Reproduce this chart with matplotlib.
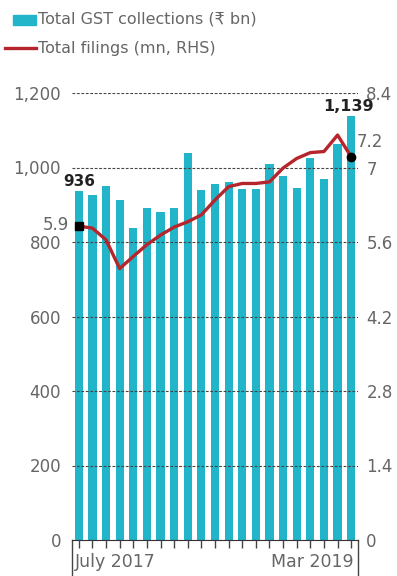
import matplotlib
matplotlib.use('Agg')
import matplotlib.pyplot as plt
from matplotlib.patches import Rectangle
from matplotlib.lines import Line2D

# monthly data, July 2017 - March 2019
months = ['Jul 2017', 'Aug 2017', 'Sep 2017', 'Oct 2017', 'Nov 2017', 'Dec 2017',
          'Jan 2018', 'Feb 2018', 'Mar 2018', 'Apr 2018', 'May 2018', 'Jun 2018',
          'Jul 2018', 'Aug 2018', 'Sep 2018', 'Oct 2018', 'Nov 2018', 'Dec 2018',
          'Jan 2019', 'Feb 2019', 'Mar 2019']
gst = [936, 925, 950, 912, 838, 892, 880, 892, 1040, 940, 955,
       962, 942, 942, 1010, 978, 945, 1025, 968, 1062, 1139]
filings = [5.9, 5.86, 5.64, 5.1, 5.33, 5.55, 5.73, 5.88, 5.98, 6.11, 6.39,
           6.64, 6.70, 6.70, 6.73, 6.99, 7.17, 7.28, 7.30, 7.61, 7.2]
left_ticks = [0, 200, 400, 600, 800, 1000, 1200]
right_ticks = [0, 1.4, 2.8, 4.2, 5.6, 7, 8.4]

bar_color = '#22b4c9'
line_color = '#b5252b'
txt = '#666666'
fonts = ['DejaVu Sans', 'Noto Sans']
plt.rcParams['font.family'] = fonts

fig = plt.figure(figsize=(3.97, 5.76), dpi=100)
W, H = 397, 576
ax = fig.add_axes([72 / W, 36 / H, 286 / W, 447 / H])
ax2 = ax.twinx()

x = list(range(len(months)))
ax.bar(x, gst, width=0.6, color=bar_color, zorder=1)
ax.set_xlim(-0.5, len(months) - 0.5)
ax.set_ylim(0, 1200)
ax.set_yticks(left_ticks)
ax.set_yticklabels([f'{v:,}' for v in left_ticks])
ax.yaxis.grid(True, color='#444444', linestyle=(0, (2.5, 1.5)), linewidth=0.8)
ax.set_axisbelow(False)
ax.tick_params(axis='y', length=0, pad=8, labelcolor=txt, labelsize=12)

ax.set_xticks([])
ax.set_xticks(x, minor=True)
ax.tick_params(axis='x', which='minor', direction='out', length=6, width=1, color='#444444')

for a in (ax, ax2):
    for s in ('top', 'left', 'right'):
        a.spines[s].set_visible(False)
ax.spines['bottom'].set_color('#333333')
ax2.spines['bottom'].set_visible(False)

ax2.plot(x, filings, color=line_color, linewidth=2.4, zorder=3)
ax2.plot(x[0], filings[0], marker='s', color='black', markersize=6, zorder=4)
ax2.plot(x[-1], filings[-1], marker='o', color='black', markersize=6, zorder=4)
ax2.set_ylim(0, 8.4)
ax2.set_yticks(right_ticks)
ax2.set_yticklabels([f'{v:g}' for v in right_ticks])
ax2.tick_params(axis='y', length=0, pad=6, labelcolor=txt, labelsize=12)

# value labels
ax.annotate(f'{gst[0]:,}', xy=(x[0], gst[0]), xytext=(0, 2), textcoords='offset points',
            ha='center', va='bottom', fontsize=11, fontweight='bold', color='#222222')
ax.annotate(f'{gst[-1]:,}', xy=(x[-1], gst[-1]), xytext=(-2, 1), textcoords='offset points',
            ha='center', va='bottom', fontsize=11.5, fontweight='bold', color='#222222')
ax2.annotate(f'{filings[0]:g}', xy=(x[0], filings[0]), xytext=(-7, 1), textcoords='offset points',
             ha='right', va='center', fontsize=12, color=txt)
ax2.annotate(f'{filings[-1]:g}', xy=(x[-1], filings[-1]), xytext=(4, 4), textcoords='offset points',
             ha='left', va='bottom', fontsize=12, color=txt)

# x labels and end frame lines
ax.text(0.01, -0.03, 'July 2017', transform=ax.transAxes, ha='left', va='top',
        fontsize=12.5, color=txt)
ax.text(0.985, -0.03, 'Mar 2019', transform=ax.transAxes, ha='right', va='top',
        fontsize=12.5, color=txt)
for xx in (0, 1):
    ax.plot([xx, xx], [0, -0.085], transform=ax.transAxes, color='#444444',
            linewidth=1, clip_on=False)

# legend
fig.add_artist(Rectangle((13 / W, 1 - 25 / H), 23 / W, 10 / H, transform=fig.transFigure,
                         color=bar_color))
fig.text(38 / W, 1 - 19 / H, 'Total GST collections (₹ bn)', ha='left', va='center',
         fontsize=11.5, color=txt)
fig.add_artist(Line2D([5 / W, 36 / W], [1 - 48 / H, 1 - 48 / H], transform=fig.transFigure,
                      color=line_color, linewidth=2.4))
fig.text(38 / W, 1 - 48 / H, 'Total filings (mn, RHS)', ha='left', va='center',
         fontsize=11.5, color=txt)

fig.savefig('out.png', dpi=100)
